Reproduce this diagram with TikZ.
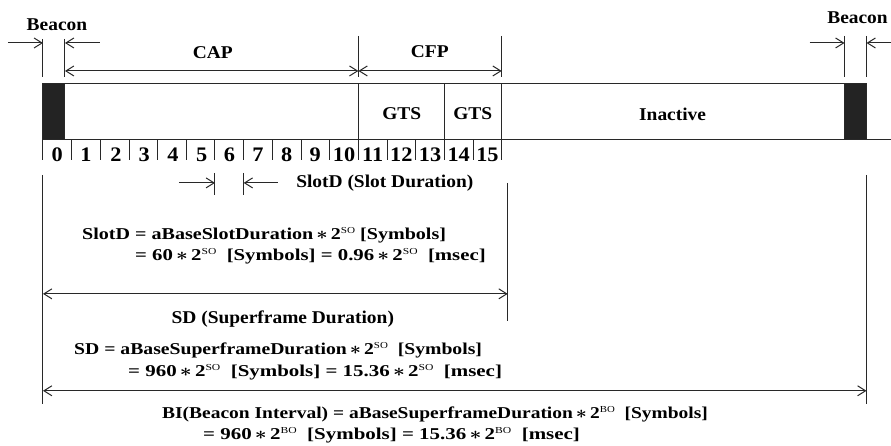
\documentclass[tikz,border=0pt]{standalone}
\usepackage{amsmath}
\usepackage{fontspec}
\setmainfont{Liberation Serif}[FakeStretch=1.08]
\usetikzlibrary{arrows.meta}

\newcommand{\sptwo}[1]{2\raisebox{0.75ex}{\fontsize{7.5}{8}\selectfont\mdseries#1}}
\newcommand{\mul}{\,$\boldsymbol{\ast}$\,}
\newcommand{\fitto}[2]{\resizebox{#1}{0.92\height}{#2}}

\begin{document}
\begin{tikzpicture}[x=0.75pt,y=0.75pt,yscale=-1,xscale=1,
  ln/.style={draw={rgb,255:red,40;green,40;blue,40},line width=0.75pt},
  dim/.style={ln,{Straight Barb[length=6pt,width=7.5pt]}-{Straight Barb[length=6pt,width=7.5pt]}},
  pto/.style={ln,-{Straight Barb[length=6pt,width=7.5pt]}},
  bcn/.style={ln,fill={rgb,255:red,35;green,35;blue,35}},
  lbl/.style={inner sep=0pt,font=\fontsize{13.5}{16}\selectfont\bfseries},
  num/.style={inner sep=0pt,font=\fontsize{15.5}{16}\selectfont\bfseries},
  frm/.style={lbl,anchor=west,text height=9pt,text depth=2pt}]
\path (0,0) rectangle (891,446);

%Shape: Bar
\draw [ln] (867,84) -- (43,84) -- (43,140) -- (891,140) ;
%Shape: Beacon blocks
\draw [bcn] (43,84) rectangle (65,140) ;
\draw [bcn] (845,84) rectangle (867,140) ;
%Straight Lines: CAP / GTS / inactive borders
\draw [ln] (358.6,84) -- (358.6,140) (444.6,84) -- (444.6,140) (502,84) -- (502,140) ;

%Straight Lines: slot ticks
\draw [ln] (43,140) -- (43,160) (71.7,140) -- (71.7,160) (100.4,140) -- (100.4,160) (129.1,140) -- (129.1,160)
  (157.8,140) -- (157.8,160) (186.4,140) -- (186.4,160) (215.1,140) -- (215.1,160) (243.8,140) -- (243.8,160)
  (272.5,140) -- (272.5,160) (301.2,140) -- (301.2,160) (329.9,140) -- (329.9,160) (358.6,140) -- (358.6,160)
  (387.3,140) -- (387.3,160) (415.9,140) -- (415.9,160) (444.6,140) -- (444.6,160) (473.3,140) -- (473.3,160)
  (502,140) -- (502,160) ;

% Text Node: slot numbers
\node [num] (s0) at (57.3,155) {0};
\node [num] (s1) at (86,155) {1};
\node [num] (s2) at (116,155) {2};
\node [num] (s3) at (144.4,155) {3};
\node [num] (s4) at (173.1,155) {4};
\node [num] (s5) at (201.8,155) {5};
\node [num] (s6) at (229.5,155) {6};
\node [num] (s7) at (258.2,155) {7};
\node [num] (s8) at (286.8,155) {8};
\node [num] (s9) at (315.5,155) {9};
\node [num] (s10) at (344.2,155) {10};
\node [num] (s11) at (372.9,155) {11};
\node [num] (s12) at (401.6,155) {12};
\node [num] (s13) at (430.3,155) {13};
\node [num] (s14) at (459,155) {14};
\node [num] (s15) at (487.7,155) {15};

%Straight Lines: left beacon
\coordinate (lb1) at (43,43) ;
\coordinate (lb2) at (65,43) ;
\draw [ln] (43,39) -- (43,77) (65,39) -- (65,77) ;
\draw [pto] (8,43) -- (lb1) ;
\draw [pto] (100,43) -- (lb2) ;
\node [lbl] (beaconl) at (57,25) {Beacon};

%Straight Lines: right beacon
\coordinate (rb1) at (845,43) ;
\coordinate (rb2) at (867,43) ;
\draw [ln] (845,36) -- (845,77) (867,36) -- (867,77) ;
\draw [pto] (810,43) -- (rb1) ;
\draw [pto] (891,43) -- (rb2) ;
\node [lbl] (beaconr) at (858,18) {Beacon};

%Straight Lines: CAP and CFP
\coordinate (cap0) at (65,71) ;
\coordinate (cap1) at (358.6,71) ;
\coordinate (cfp1) at (502,71) ;
\draw [ln] (358.6,36) -- (358.6,77) (502,36) -- (502,77) ;
\draw [dim] (cap0) -- (cap1) ;
\draw [dim] (cap1) -- (cfp1) ;
\node [lbl] (cap) at (213,53) {CAP};
\node [lbl] (cfp) at (430,52) {CFP};

% Text Node: bar contents
\node [lbl] (gts1) at (402,114) {GTS};
\node [lbl] (gts2) at (473,114) {GTS};
\node [lbl] (inact) at (673,114) {Inactive};

%Straight Lines: slot duration
\coordinate (sl0) at (215.1,183) ;
\coordinate (sl1) at (243.8,183) ;
\draw [ln] (215.1,173) -- (215.1,195) (243.8,173) -- (243.8,195) ;
\draw [pto] (179,183) -- (sl0) ;
\draw [pto] (278,183) -- (sl1) ;
\node [lbl] (slotd) at (385,183) {SlotD (Slot Duration)};

% Text Node: SlotD formula
\node [frm] (slf1) at (82,235) {\fitto{273pt}{SlotD = aBaseSlotDuration\mul\sptwo{SO} [Symbols]}};
\node [frm] (slf2) at (135,256) {\fitto{263pt}{= 60\mul\sptwo{SO}\ \ [Symbols] = 0.96\mul\sptwo{SO}\ \ [msec]}};

%Straight Lines: SD
\coordinate (sd0) at (43,294) ;
\coordinate (sd1) at (508,294) ;
\draw [ln] (43,175) -- (43,404) (508,183) -- (508,321) (867,175) -- (867,404) ;
\draw [dim] (sd0) -- (sd1) ;
\node [lbl] (sd) at (283,319) {SD (Superframe Duration)};

% Text Node: SD formula
\node [frm] (sdf1) at (74,350) {\fitto{306pt}{SD = aBaseSuperframeDuration\mul\sptwo{SO}\ \ [Symbols]}};
\node [frm] (sdf2) at (128,372) {\fitto{280.5pt}{= 960\mul\sptwo{SO}\ \ [Symbols] = 15.36\mul\sptwo{SO}\ \ [msec]}};

%Straight Lines: BI
\coordinate (bi0) at (43,391) ;
\coordinate (bi1) at (867,391) ;
\draw [dim] (bi0) -- (bi1) ;

% Text Node: BI formula
\node [frm] (bif1) at (162,414) {\fitto{409.5pt}{BI(Beacon Interval) = aBaseSuperframeDuration\mul\sptwo{BO}\ \ [Symbols]}};
\node [frm] (bif2) at (203,435) {\fitto{282.75pt}{= 960\mul\sptwo{BO}\ \ [Symbols] = 15.36\mul\sptwo{BO}\ \ [msec]}};

\end{tikzpicture}
\end{document}
